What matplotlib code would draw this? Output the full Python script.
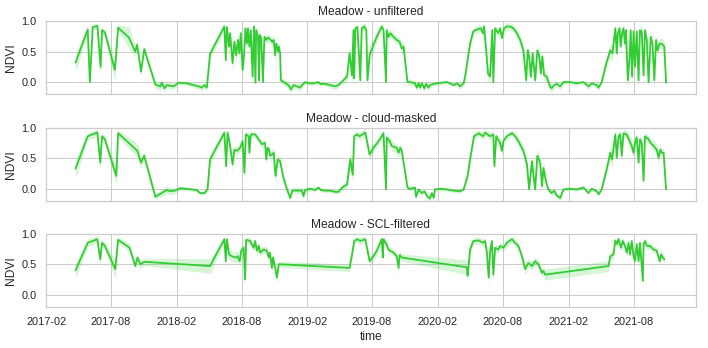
import matplotlib
matplotlib.use("Agg")
import matplotlib.pyplot as plt
import matplotlib.dates as mdates
import seaborn as sns
import numpy as np
import pandas as pd

sns.set_theme(style="whitegrid")
plt.rcParams["font.family"] = ["Liberation Sans", "DejaVu Sans"]

start = pd.Timestamp("2017-02-01")
green = "#32cd32"

# days since 2017-02-01, mean NDVI and CI half width for each filter

# unfiltered
days_unf = [82, 116, 122, 130, 143, 152, 156, 164, 192, 201, 231, 249, 254, 265, 274,
            305, 319, 323, 330, 337, 356, 370, 393, 426, 435, 442, 449,
            458, 498, 502, 505, 511, 514, 521, 526, 531, 536, 540, 544, 549, 553, 557, 561, 564, 568, 572,
            577, 581, 585, 587, 592, 595, 597, 601, 606, 610, 615, 620, 626, 632, 636, 640, 643, 648, 650, 654,
            656, 677, 684, 691, 701, 710, 715, 724, 733, 747, 761, 766, 780, 794, 808, 817, 822, 831, 841,
            848, 855, 859, 861, 864, 870, 878, 882, 889, 895, 898, 904, 913, 924, 938, 943, 950, 952, 957,
            962, 971, 980, 988, 994, 999,
            1010, 1017, 1031, 1036, 1041, 1045, 1050, 1057, 1062, 1069, 1073, 1083, 1092, 1106, 1120,
            1129, 1139, 1148, 1157, 1167,
            1171, 1178, 1185, 1194, 1204, 1215, 1221, 1224, 1230, 1235, 1241, 1247, 1250, 1255, 1264, 1269,
            1274, 1280, 1288, 1297, 1306, 1316, 1325, 1334, 1342, 1346, 1350, 1355, 1360, 1367, 1373, 1378,
            1383, 1387, 1392, 1399,
            1409, 1413, 1420, 1427, 1437, 1446, 1465, 1483, 1502, 1516, 1525, 1539, 1544, 1553,
            1566, 1577, 1583, 1591, 1595, 1598, 1603, 1606, 1610, 1614, 1618, 1621, 1626, 1631, 1634, 1638,
            1642, 1646, 1651, 1656, 1660, 1665, 1670, 1674, 1679, 1684, 1690, 1695, 1700, 1705, 1709, 1715,
            1721, 1728, 1733]
ndvi_unf = [0.32, 0.86, 0.0, 0.90, 0.92, 0.25, 0.85, 0.81, 0.20, 0.89, 0.73, 0.50, 0.61, 0.17, 0.54,
            -0.04, -0.07, -0.01, -0.10, -0.05, -0.07, -0.01, -0.02, -0.07, -0.09, -0.05, -0.09,
            0.46, 0.91, 0.36, 0.90, 0.58, 0.80, 0.31, 0.66, 0.44, 0.69, 0.47, 0.80, 0.20, 0.44, 0.88, 0.63,
            0.88, 0.58, 0.85, 0.09, 0.91, -0.01, 0.85, 0.74, 0.03, 0.77, 0.72, 0.0, 0.74, 0.69, 0.73, 0.70,
            0.66, 0.69, 0.44, 0.63, 0.50, 0.58, 0.47,
            0.03, -0.05, -0.12, -0.05, -0.07, -0.09, -0.05, 0.0, -0.02, -0.02, 0.0, -0.03, -0.03, -0.05,
            -0.07, -0.05, -0.02, 0.03, 0.09,
            0.47, 0.11, 0.85, 0.06, 0.88, 0.90, 0.03, 0.88, 0.91, 0.85, 0.03, 0.44, 0.58, 0.74, 0.91, 0.85,
            0.0, 0.85, 0.74, 0.80, 0.74, 0.69, 0.66, 0.55, 0.58,
            0.0, 0.0, -0.02, -0.09, -0.02, -0.09, -0.02, -0.10, -0.03, -0.09, -0.05, -0.03, -0.02, -0.01,
            0.0, -0.02, -0.05, -0.02, -0.07, -0.02,
            0.09, 0.36, 0.63, 0.83, 0.86, 0.88, 0.80, 0.91, 0.52, 0.14, 0.09, 0.85, 0.0, 0.88, 0.80, 0.88,
            0.72, 0.88, 0.91, 0.91, 0.88, 0.80, 0.69, 0.52, 0.03, 0.52, 0.42, 0.09, 0.47, 0.03, 0.52, 0.44,
            0.14, 0.42, 0.11, 0.09,
            -0.08, -0.10, -0.05, -0.03, -0.07, 0.0, 0.0, -0.02, 0.0, -0.07, -0.02, -0.05, -0.09, 0.0,
            0.31, 0.52, 0.47, 0.88, 0.47, 0.80, 0.88, 0.58, 0.80, 0.88, 0.63, 0.85, 0.03, 0.42, 0.85, 0.09,
            0.83, 0.25, 0.83, 0.03, 0.85, 0.83, 0.11, 0.85, 0.69, 0.0, 0.74, 0.63, 0.03, 0.69, 0.52, 0.63,
            0.63, 0.58, -0.01]
ci_unf = [0.15, 0.07, 0.05, 0.05, 0.05, 0.18, 0.06, 0.06, 0.18, 0.05, 0.18, 0.09, 0.07, 0.07, 0.06,
          0.06, 0.07, 0.05, 0.07, 0.05, 0.05, 0.03, 0.03, 0.05, 0.05, 0.05, 0.05,
          0.09, 0.05, 0.15, 0.05, 0.12, 0.07, 0.15, 0.12, 0.15, 0.12, 0.15, 0.07, 0.15, 0.15, 0.06, 0.12,
          0.06, 0.12, 0.07, 0.15, 0.06, 0.05, 0.07, 0.07, 0.05, 0.07, 0.07, 0.05, 0.07, 0.07, 0.07, 0.07,
          0.07, 0.07, 0.12, 0.07, 0.12, 0.07, 0.09,
          0.05, 0.06, 0.06, 0.05, 0.05, 0.06, 0.05, 0.03, 0.03, 0.03, 0.03, 0.03, 0.03, 0.05, 0.05,
          0.05, 0.03, 0.06, 0.09,
          0.15, 0.15, 0.07, 0.15, 0.06, 0.06, 0.12, 0.06, 0.06, 0.06, 0.12, 0.15, 0.12, 0.09, 0.06, 0.09,
          0.12, 0.09, 0.07, 0.07, 0.07, 0.07, 0.07, 0.09, 0.09,
          0.05, 0.05, 0.05, 0.06, 0.05, 0.06, 0.05, 0.06, 0.05, 0.06, 0.05, 0.03, 0.03, 0.03, 0.03,
          0.03, 0.03, 0.03, 0.05, 0.05,
          0.07, 0.09, 0.09, 0.07, 0.06, 0.06, 0.07, 0.06, 0.12, 0.12, 0.12, 0.07, 0.12, 0.06, 0.07, 0.06,
          0.07, 0.06, 0.06, 0.06, 0.06, 0.07, 0.09, 0.09, 0.12, 0.09, 0.09, 0.12, 0.09, 0.12, 0.09, 0.09,
          0.12, 0.09, 0.09, 0.09,
          0.06, 0.06, 0.05, 0.05, 0.05, 0.03, 0.03, 0.03, 0.03, 0.05, 0.03, 0.05, 0.05, 0.05,
          0.09, 0.12, 0.12, 0.09, 0.15, 0.09, 0.07, 0.12, 0.09, 0.07, 0.12, 0.07, 0.15, 0.12, 0.07, 0.15,
          0.09, 0.15, 0.09, 0.15, 0.07, 0.09, 0.15, 0.07, 0.09, 0.15, 0.09, 0.12, 0.15, 0.09, 0.12, 0.09,
          0.09, 0.09, 0.07]

# cloud-masked
days_cm = [82, 116, 143, 151, 156, 164, 196, 201, 255, 265, 274,
           305, 337, 346, 360, 375, 421, 430, 442, 451,
           458, 498, 503, 507, 514, 521, 526, 533, 542, 549, 554, 558, 566, 568, 572, 584, 594, 603, 612,
           615, 619, 623, 626, 631, 636, 641, 647, 654, 662, 671,
           682, 688, 715, 719, 724, 738, 752, 761, 768, 780, 794, 808, 817, 827, 841,
           850, 857, 861, 869, 876, 892, 904, 915, 929, 938, 943, 950, 952, 960, 966, 980, 985, 990, 994,
           1010, 1017, 1031, 1034, 1041, 1050, 1057, 1066, 1073, 1078, 1083, 1087, 1101, 1120, 1139,
           1157, 1167,
           1178, 1185, 1196, 1209, 1221, 1227, 1234, 1241, 1250, 1253, 1258, 1269, 1274, 1278, 1288,
           1302, 1311, 1320, 1334, 1344, 1350, 1358, 1362, 1367, 1373, 1381, 1386, 1390, 1398,
           1404, 1413, 1420, 1427, 1437, 1446, 1465, 1483, 1502, 1516, 1525, 1539, 1544, 1553,
           1567, 1577, 1582, 1591, 1595, 1600, 1605, 1609, 1614, 1623, 1637, 1642, 1646, 1651, 1656,
           1660, 1665, 1670, 1674, 1684, 1690, 1698, 1707, 1712, 1717, 1721, 1726, 1733]
ndvi_cm = [0.33, 0.86, 0.92, 0.43, 0.86, 0.81, 0.21, 0.91, 0.62, 0.43, 0.54,
           -0.13, -0.02, -0.04, -0.03, 0.01, -0.02, -0.07, -0.07, -0.01,
           0.48, 0.92, 0.37, 0.92, 0.70, 0.40, 0.64, 0.62, 0.67, 0.78, 0.26, 0.89, 0.86, 0.59, 0.89,
           0.89, 0.81, 0.73, 0.75, 0.48, 0.67, 0.64, 0.54, 0.56, 0.59, 0.21, 0.48, 0.45, 0.21, 0.03,
           -0.15, -0.03, -0.03, -0.12, -0.02, 0.0, -0.02, 0.02, -0.02, -0.03, -0.03, -0.05, -0.05, 0.02,
           0.07,
           0.48, 0.23, 0.86, 0.89, 0.86, 0.92, 0.56, 0.67, 0.78, 0.86, 0.91, -0.01, 0.84, 0.78, 0.70,
           0.67, 0.59, 0.67, 0.62,
           0.02, 0.0, 0.02, -0.13, -0.01, -0.07, -0.04, -0.13, -0.16, -0.07, -0.15, -0.01, 0.0, -0.01,
           -0.03, -0.04, -0.01,
           0.21, 0.48, 0.86, 0.91, 0.86, 0.92, 0.89, 0.86, 0.89, 0.37, 0.86, 0.75, 0.62, 0.78, 0.86,
           0.91, 0.86, 0.78, 0.62, 0.40, -0.01, 0.45, 0.23, -0.01, 0.54, 0.43, 0.04, 0.34, 0.10,
           -0.01, -0.07, -0.03, -0.11, -0.15, -0.01, 0.0, -0.01, 0.02, -0.07, 0.0, -0.04, -0.09, -0.01,
           0.32, 0.59, 0.48, 0.89, 0.51, 0.86, 0.89, 0.54, 0.91, 0.89, 0.70, 0.59, 0.75, 0.84, 0.43,
           0.81, 0.75, 0.13, 0.86, 0.81, 0.75, 0.70, 0.64, 0.51, 0.64, 0.59, 0.59, -0.01]
ci_cm = [0.15, 0.06, 0.06, 0.15, 0.06, 0.06, 0.15, 0.06, 0.12, 0.09, 0.07,
         0.05, 0.06, 0.06, 0.05, 0.03, 0.03, 0.03, 0.03, 0.03,
         0.09, 0.05, 0.15, 0.05, 0.07, 0.12, 0.07, 0.07, 0.07, 0.07, 0.15, 0.05, 0.06, 0.09, 0.05,
         0.05, 0.06, 0.06, 0.06, 0.09, 0.09, 0.07, 0.09, 0.07, 0.07, 0.12, 0.07, 0.07, 0.07, 0.06,
         0.06, 0.05, 0.05, 0.06, 0.05, 0.03, 0.03, 0.03, 0.03, 0.03, 0.03, 0.03, 0.03, 0.05, 0.06,
         0.15, 0.12, 0.06, 0.06, 0.06, 0.07, 0.09, 0.07, 0.06, 0.06, 0.06, 0.12, 0.07, 0.07, 0.09,
         0.07, 0.09, 0.07, 0.07,
         0.05, 0.03, 0.03, 0.05, 0.03, 0.05, 0.03, 0.05, 0.05, 0.03, 0.05, 0.03, 0.03, 0.03, 0.03,
         0.03, 0.03,
         0.06, 0.09, 0.06, 0.05, 0.06, 0.05, 0.06, 0.06, 0.06, 0.12, 0.06, 0.07, 0.09, 0.07, 0.06,
         0.05, 0.06, 0.07, 0.09, 0.12, 0.06, 0.12, 0.12, 0.06, 0.12, 0.09, 0.07, 0.12, 0.07,
         0.05, 0.05, 0.03, 0.05, 0.05, 0.03, 0.03, 0.03, 0.03, 0.03, 0.03, 0.03, 0.03, 0.03,
         0.07, 0.12, 0.12, 0.07, 0.12, 0.07, 0.07, 0.12, 0.06, 0.07, 0.12, 0.09, 0.09, 0.07, 0.12,
         0.07, 0.09, 0.12, 0.07, 0.07, 0.07, 0.09, 0.09, 0.09, 0.09, 0.07, 0.07, 0.03]

# SCL-filtered
days_scl = [82, 116, 143, 151, 156, 164, 193, 201, 233, 249, 255, 263, 274,
            458, 498, 502, 505, 511, 519, 528, 535, 541, 545, 552, 556, 559, 570, 580, 584, 589, 594,
            598, 608, 617, 622, 625, 628, 631, 634, 640, 645, 650,
            848, 855, 861, 870, 878, 892, 904, 915, 924, 938, 941, 943, 951, 957, 962, 971, 980, 985,
            988, 994,
            1176, 1178, 1185, 1194, 1209, 1221, 1227, 1232, 1237, 1241, 1246, 1250, 1255, 1264, 1269,
            1278, 1288, 1302, 1311, 1320, 1330, 1339, 1348, 1358, 1367, 1376, 1386, 1390, 1395,
            1572, 1577, 1586, 1591, 1595, 1600, 1607, 1612, 1618, 1623, 1628, 1632, 1637, 1642, 1646,
            1651, 1656, 1660, 1668, 1670, 1674, 1679, 1688, 1698, 1707, 1715, 1719, 1724, 1728]
ndvi_scl = [0.40, 0.85, 0.91, 0.58, 0.85, 0.80, 0.42, 0.90, 0.77, 0.47, 0.61, 0.50, 0.54,
            0.47, 0.91, 0.55, 0.91, 0.66, 0.63, 0.61, 0.63, 0.55, 0.72, 0.77, 0.25, 0.90, 0.88, 0.77,
            0.88, 0.72, 0.80, 0.69, 0.74, 0.72, 0.61, 0.69, 0.58, 0.44, 0.61, 0.44, 0.28, 0.50,
            0.44, 0.66, 0.88, 0.91, 0.88, 0.91, 0.55, 0.63, 0.72, 0.91, 0.61, 0.91, 0.83, 0.74, 0.72,
            0.69, 0.63, 0.44, 0.65, 0.61,
            0.45, 0.31, 0.74, 0.88, 0.89, 0.85, 0.88, 0.69, 0.28, 0.72, 0.88, 0.33, 0.77, 0.74, 0.80,
            0.77, 0.85, 0.91, 0.85, 0.80, 0.63, 0.42, 0.52, 0.47, 0.55, 0.50, 0.36, 0.39, 0.33,
            0.47, 0.63, 0.66, 0.89, 0.83, 0.91, 0.77, 0.88, 0.80, 0.69, 0.85, 0.66, 0.88, 0.63, 0.55,
            0.83, 0.55, 0.85, 0.23, 0.83, 0.88, 0.80, 0.80, 0.74, 0.72, 0.55, 0.66, 0.61, 0.58]
ci_scl = [0.12, 0.07, 0.06, 0.12, 0.06, 0.07, 0.15, 0.05, 0.07, 0.06, 0.06, 0.07, 0.06,
          0.12, 0.06, 0.12, 0.05, 0.09, 0.09, 0.09, 0.09, 0.09, 0.09, 0.07, 0.12, 0.05, 0.06, 0.07,
          0.06, 0.09, 0.07, 0.07, 0.06, 0.06, 0.07, 0.06, 0.09, 0.09, 0.07, 0.09, 0.09, 0.05,
          0.06, 0.09, 0.06, 0.05, 0.06, 0.05, 0.09, 0.07, 0.07, 0.06, 0.12, 0.06, 0.07, 0.06, 0.06,
          0.06, 0.06, 0.12, 0.07, 0.06,
          0.12, 0.12, 0.09, 0.06, 0.06, 0.06, 0.06, 0.09, 0.12, 0.07, 0.06, 0.12, 0.07, 0.06, 0.06,
          0.06, 0.06, 0.05, 0.06, 0.06, 0.07, 0.09, 0.07, 0.07, 0.07, 0.07, 0.07, 0.07, 0.09,
          0.09, 0.07, 0.07, 0.06, 0.07, 0.06, 0.07, 0.06, 0.07, 0.07, 0.06, 0.07, 0.06, 0.09, 0.07,
          0.07, 0.09, 0.06, 0.12, 0.07, 0.06, 0.06, 0.06, 0.06, 0.06, 0.07, 0.07, 0.06, 0.05]

panels = [
    ("Meadow - unfiltered", days_unf, ndvi_unf, ci_unf),
    ("Meadow - cloud-masked", days_cm, ndvi_cm, ci_cm),
    ("Meadow - SCL-filtered", days_scl, ndvi_scl, ci_scl),
]

fig = plt.figure(figsize=(708 / 72, 348 / 72), dpi=72)
left, width, height = 0.065, 0.9175, 0.2107
bottoms = [0.729, 0.4224, 0.1178]
axes = []
for b in bottoms:
    ax = fig.add_axes([left, b, width, height], sharex=axes[0] if axes else None)
    axes.append(ax)

for ax, (title, days, ndvi, ci) in zip(axes, panels):
    t = start + pd.to_timedelta(days, unit="D")
    y = np.array(ndvi)
    c = np.array(ci)
    ax.fill_between(t, y - c, y + c, color=green, alpha=0.2, linewidth=0)
    ax.plot(t, y, color=green, lw=1.8)
    ax.set_title(title, fontsize=12)
    ax.set_ylabel("NDVI", fontsize=12)
    ax.set_ylim(-0.2, 1.0)
    ax.set_yticks([0.0, 0.5, 1.0])
    ax.tick_params(labelsize=11)
    for s in ax.spines.values():
        s.set_color("#cccccc")

axes[0].xaxis.set_major_locator(mdates.MonthLocator(bymonth=[2, 8]))
axes[0].xaxis.set_major_formatter(mdates.DateFormatter("%Y-%m"))
for ax in axes[:2]:
    ax.tick_params(labelbottom=False)
axes[2].set_xlabel("time", fontsize=12)

fig.savefig("out.png", dpi=72)
